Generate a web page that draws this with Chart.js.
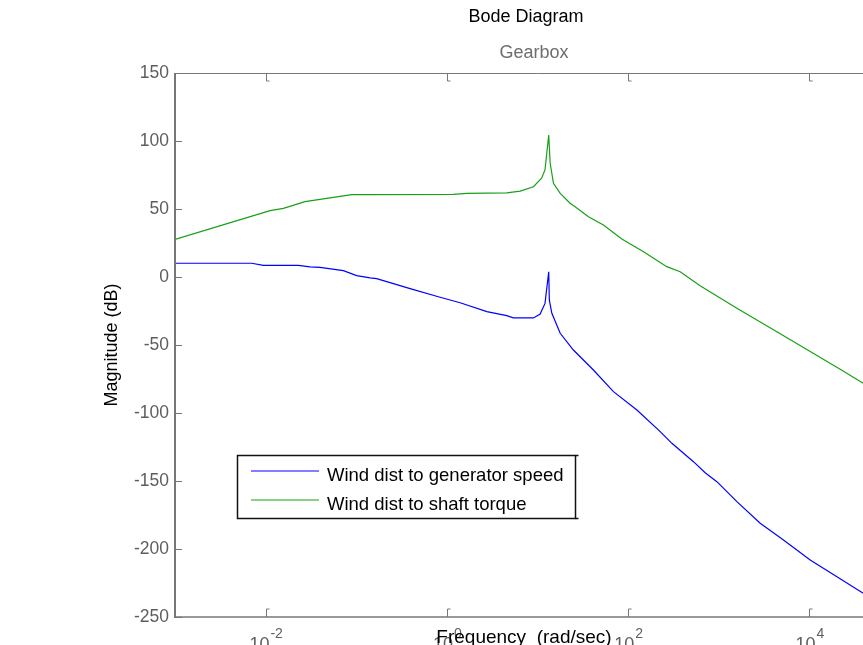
<!DOCTYPE html>
<html>
<head>
<meta charset="utf-8">
<script src="https://cdn.jsdelivr.net/npm/chart.js@4.4.1/dist/chart.umd.min.js"></script>
<style>
  html, body { margin: 0; padding: 0; background: #fff; overflow: hidden; width: 863px; height: 645px; }
  #wrap { width: 1000px; height: 645px; }
</style>
</head>
<body>
<div id="wrap"><canvas id="c" width="1000" height="645"></canvas></div>
<script>
// ---- Data (frequency in rad/sec, magnitude in dB) ----
const freqGen = [0.001, 0.00703, 0.00944, 0.0230, 0.0309, 0.0398, 0.0721, 0.101, 0.142, 0.168, 0.393, 0.841, 1.40, 2.76, 4.58, 5.42, 9.02, 10.7, 12.1, 13.3, 13.5, 14.4, 17.8, 24.9, 41.4, 68.9, 125, 226, 304, 526, 708, 953, 1585, 2866, 5177, 10210, 20140, 39260, 100000];
const magGen  = [10.1, 10.1, 8.6, 8.6, 7.4, 7.1, 4.7, 1.0, -0.7, -1.2, -8.6, -14.9, -18.9, -25.5, -28.4, -30.1, -30.1, -27.2, -19.4, 3.9, -16.9, -26.7, -41.4, -53.7, -68.4, -84.3, -97.8, -113.7, -122.3, -135.8, -143.9, -150.5, -165.2, -181.1, -193.4, -208.1, -220.4, -232.6, -249];

const freqShaft = [0.001, 0.0112, 0.0157, 0.0272, 0.0891, 0.142, 1.18, 1.66, 4.58, 6.43, 9.02, 11.1, 12.1, 13.3, 13.8, 15.0, 17.8, 22.9, 26.0, 36.5, 53.4, 85.2, 148, 267, 375, 623, 1585, 4375, 21880, 39260, 100000];
const magShaft  = [27.7, 48.8, 50.5, 55.4, 60.5, 60.5, 60.8, 61.5, 61.8, 63.2, 66.4, 72.6, 78.7, 104.4, 83.6, 68.9, 61.5, 54.2, 51.7, 44.3, 38.2, 27.9, 18.6, 7.6, 3.9, -6.4, -23.0, -40.2, -67.9, -78.2, -94];

const seriesNames = ['Wind dist to generator speed', 'Wind dist to shaft torque'];
const xTickValues = [0.01, 1, 100, 10000];
const xTickExponents = ['-2', '0', '2', '4'];
const yTickValues = [150, 100, 50, 0, -50, -100, -150, -200, -250];
const titleText = 'Bode Diagram';
const subTitleText = 'Gearbox';
const xTitleText = 'Frequency  (rad/sec)';
const yTitleText = 'Magnitude (dB)';

const FONT = '"Liberation Sans", Arial, Helvetica, sans-serif';
const BLUE = '#0000ff';
const GREEN = '#16a016';
const AXIS = '#777777';
const TICKTXT = '#5e5e5e';

function toXY(xs, ys) { return xs.map((x, i) => ({ x: x, y: ys[i] })); }

const decor = {
  id: 'decor',
  afterDraw(chart) {
    const ctx = chart.ctx;
    const a = chart.chartArea;
    const xs = chart.scales.x, ys = chart.scales.y;
    ctx.save();
    // axes box
    ctx.strokeStyle = AXIS;
    ctx.lineWidth = 1;
    ctx.beginPath(); ctx.moveTo(a.left, a.top + 0.5); ctx.lineTo(a.right, a.top + 0.5); ctx.stroke();
    ctx.lineWidth = 1.5;
    ctx.beginPath(); ctx.moveTo(a.left, a.bottom); ctx.lineTo(a.right, a.bottom); ctx.stroke();
    ctx.lineWidth = 2;
    ctx.beginPath(); ctx.moveTo(a.left, a.top); ctx.lineTo(a.left, a.bottom + 1); ctx.stroke();

    // y ticks (inward)
    ctx.lineWidth = 1;
    yTickValues.forEach(v => {
      const py = Math.round(ys.getPixelForValue(v)) + 0.5;
      ctx.beginPath(); ctx.moveTo(a.left, py); ctx.lineTo(a.left + 7, py); ctx.stroke();
    });
    // x ticks (inward, top and bottom)
    xTickValues.forEach(v => {
      const px = Math.round(xs.getPixelForValue(v)) + 0.5;
      ctx.beginPath();
      ctx.moveTo(px, a.bottom); ctx.lineTo(px, a.bottom - 8); ctx.lineTo(px + 3, a.bottom - 8);
      ctx.moveTo(px, a.top); ctx.lineTo(px, a.top + 8); ctx.lineTo(px + 3, a.top + 8);
      ctx.stroke();
    });

    // x tick labels with superscripts
    ctx.fillStyle = TICKTXT;
    ctx.textBaseline = 'alphabetic';
    ctx.textAlign = 'left';
    xTickValues.forEach((v, i) => {
      const px = xs.getPixelForValue(v);
      ctx.font = '18px ' + FONT;
      const wBase = ctx.measureText('10').width;
      ctx.font = '14px ' + FONT;
      const wSup = ctx.measureText(xTickExponents[i]).width;
      const x0 = px - (wBase + wSup) / 2;
      ctx.font = '18px ' + FONT;
      ctx.fillText('10', x0, 650);
      ctx.font = '14px ' + FONT;
      ctx.fillText(xTickExponents[i], x0 + wBase + 1, 638);
    });

    // axis titles
    ctx.fillStyle = '#000';
    ctx.font = '19px ' + FONT;
    ctx.textAlign = 'center';
    ctx.fillText(xTitleText, 524, 643);
    ctx.font = '18px ' + FONT;
    ctx.save();
    ctx.translate(112, 345);
    ctx.rotate(-Math.PI / 2);
    ctx.textBaseline = 'middle';
    ctx.fillText(yTitleText, 0, 0);
    ctx.restore();

    // titles
    ctx.fillStyle = '#000';
    ctx.fillText(titleText, 526, 22);
    ctx.fillStyle = '#6e6e6e';
    ctx.fillText(subTitleText, 534, 58);

    // legend
    const L = 237.5, T = 455.5, R = 575.5, B = 518.5;
    ctx.fillStyle = '#fff';
    ctx.fillRect(L, T, R - L, B - T);
    ctx.strokeStyle = '#111';
    ctx.lineWidth = 1.5;
    ctx.strokeRect(L, T, R - L, B - T);
    ctx.beginPath();
    ctx.moveTo(R, T); ctx.lineTo(R + 3, T);
    ctx.moveTo(R, B); ctx.lineTo(R + 3, B);
    ctx.stroke();
    const colors = [BLUE, GREEN];
    const lineYs = [471, 500];
    const textYs = [481, 510];
    ctx.lineWidth = 1.2;
    seriesNames.forEach((n, i) => {
      ctx.strokeStyle = colors[i];
      ctx.beginPath(); ctx.moveTo(251, lineYs[i]); ctx.lineTo(319, lineYs[i]); ctx.stroke();
      ctx.fillStyle = '#000';
      ctx.textAlign = 'left';
      ctx.font = '18.5px ' + FONT;
      ctx.fillText(n, 327, textYs[i]);
    });
    ctx.restore();
  }
};

new Chart(document.getElementById('c'), {
  type: 'line',
  data: {
    datasets: [
      { label: seriesNames[0], data: toXY(freqGen, magGen), borderColor: BLUE, borderWidth: 1.2, pointRadius: 0, tension: 0, fill: false },
      { label: seriesNames[1], data: toXY(freqShaft, magShaft), borderColor: GREEN, borderWidth: 1.2, pointRadius: 0, tension: 0, fill: false }
    ]
  },
  options: {
    responsive: false,
    animation: false,
    devicePixelRatio: 1,
    layout: { padding: { left: 0, top: 73, right: 100, bottom: 28 } },
    plugins: { legend: { display: false }, title: { display: false }, tooltip: { enabled: false } },
    scales: {
      x: {
        type: 'logarithmic', min: 0.001, max: 100000,
        grid: { display: false }, border: { display: false },
        ticks: { display: false },
        afterFit: s => { s.height = 0; }
      },
      y: {
        type: 'linear', min: -250, max: 150,
        afterBuildTicks: s => { s.ticks = yTickValues.map(v => ({ value: v })); },
        grid: { display: false, drawTicks: false }, border: { display: false },
        ticks: { color: TICKTXT, font: { size: 17.5, family: FONT }, padding: 6 },
        afterFit: s => { s.width = 175; }
      }
    }
  },
  plugins: [decor]
});
</script>
</body>
</html>
